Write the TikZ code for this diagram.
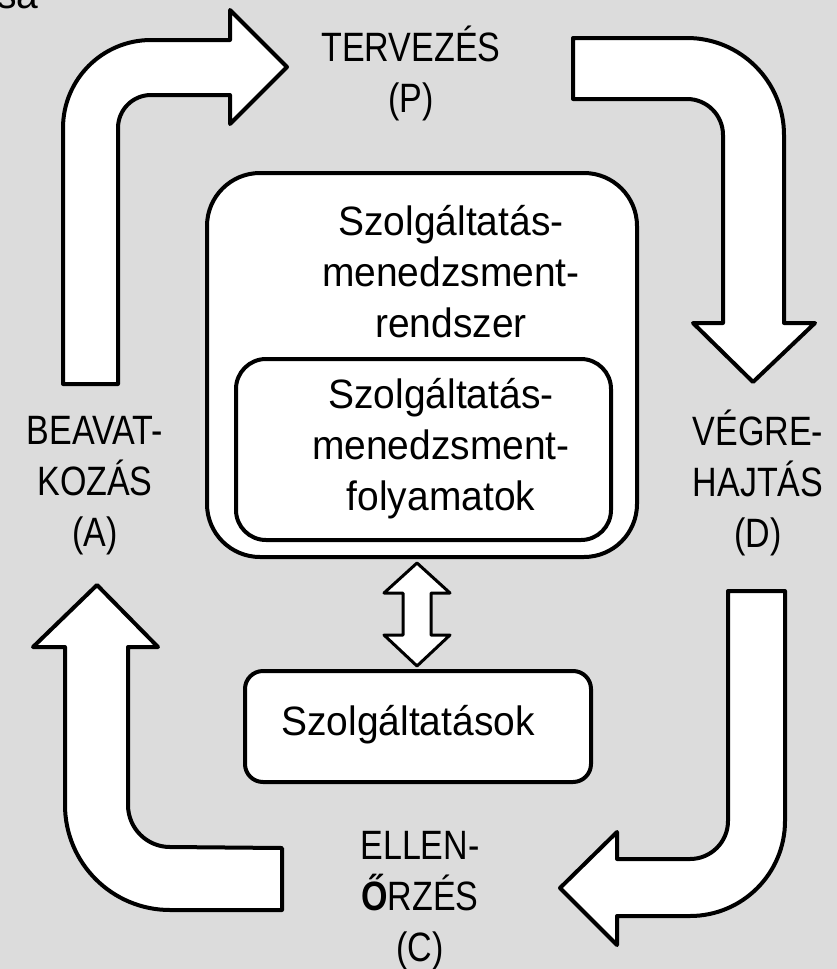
\documentclass[tikz,border=0pt]{standalone}
\usepackage{fontspec}
\setmainfont{Liberation Sans}[FakeStretch=0.95]
\newfontfamily\capsfont{Liberation Sans}[FakeStretch=0.83]
\definecolor{bggray}{RGB}{220,220,220}

\begin{document}
\begin{tikzpicture}[x=1pt,y=-1pt]
        \tikzstyle{bigarrow}=[draw=black,fill=white,line width=4pt,line join=round]
        \tikzstyle{box}=[draw=black,fill=white,line width=4pt,inner sep=0pt]
        \tikzstyle{boxtext}=[inner sep=0pt,align=center,anchor=base,font=\fontsize{41}{51}\selectfont]
        \tikzstyle{steptext}=[boxtext,font=\capsfont\fontsize{41}{51}\selectfont]

        \fill[bggray] (0,0) rectangle (837,969);
        \useasboundingbox (0,0) rectangle (837,969);

        \node (satxt)[boxtext,anchor=base west] at (-3,9) {sa};

        \draw[bigarrow] (63,384) -- (63,128) arc[start angle=180,end angle=270,radius=88] -- (230,40) -- (230,10) -- (287,67) -- (230,124) -- (230,95) -- (151,95) arc[start angle=270,end angle=180,radius=33] -- (118,384) -- cycle;
        \draw[bigarrow] (573,38) -- (687,38) arc[start angle=270,end angle=360,radius=97] -- (784,323) -- (815,323) -- (753,382) -- (693,323) -- (723,323) -- (723,135) arc[start angle=0,end angle=-90,radius=36] -- (573,99) -- cycle;
        \draw[bigarrow] (728,591) -- (785,591) -- (785,821) arc[start angle=0,end angle=90,radius=95] -- (617,916) -- (617,945) -- (560,888) -- (617,832) -- (617,859) -- (690,859) arc[start angle=90,end angle=0,radius=38] -- cycle;
        \draw[bigarrow] (282,848) -- (282,910) -- (170,910) arc[start angle=90,end angle=180,radius=105] -- (65,647) -- (33,647) -- (97,585) -- (158,647) -- (128,647) -- (128,805) arc[start angle=180,end angle=90,radius=42] -- cycle;

        \node (terv)[steptext] at (411,112) {TERVEZÉS\\(P)};
        \node (vegre)[steptext] at (758,547) {VÉGRE-\\HAJTÁS\\(D)};
        \node (ellen)[steptext] at (420,961) {ELLEN-\\{\bfseries Ő}RZÉS\\(C)};
        \node (beav)[steptext] at (95,546) {BEAVAT-\\KOZÁS\\(A)};

        \node (sys)[box,rounded corners=53pt,minimum width=430pt,minimum height=384pt] at (422,365) {};
        \node (systxt)[boxtext] at (451,337) {Szolgáltatás-\\menedzsment-\\rendszer};
        \node (proc)[box,rounded corners=30pt,minimum width=375pt,minimum height=181pt] at (423.5,449.5) {};
        \node (proctxt)[boxtext] at (441,510) {Szolgáltatás-\\menedzsment-\\folyamatok};
        \node (svc)[box,rounded corners=18pt,minimum width=346pt,minimum height=111pt] at (418,726.5) {};
        \node (svctxt)[boxtext] at (408,735) {Szolgáltatások};

        \coordinate (dtop) at (417,563);
        \coordinate (dbot) at (417,666);
        \draw[bigarrow,line width=3pt] (dtop) -- ++(33,30) -- ++(-19,0) -- ++(0,42) -- ++(19,0) -- (dbot) -- ++(-33,-31) -- ++(19,0) -- ++(0,-42) -- ++(-19,0) -- cycle;
    \end{tikzpicture}
\end{document}
